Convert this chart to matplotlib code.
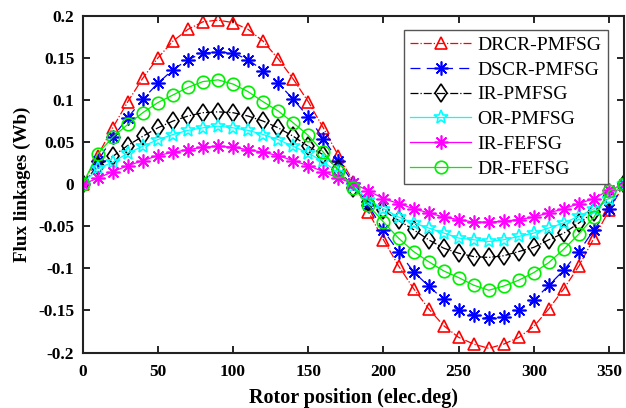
import matplotlib
matplotlib.use('Agg')
import matplotlib.pyplot as plt

# rotor position (elec. deg), one point every 10 deg
angle = list(range(0, 361, 10))

# flux linkages (Wb)
drcr_pmfsg = [0, 0.034, 0.067, 0.098, 0.126, 0.150, 0.170, 0.184, 0.193, 0.195,
              0.192, 0.184, 0.170, 0.149, 0.125, 0.098, 0.067, 0.034, 0.003,
              -0.033, -0.066, -0.097, -0.124, -0.148, -0.168, -0.182, -0.190, -0.195,
              -0.190, -0.182, -0.169, -0.148, -0.124, -0.097, -0.064, -0.031, 0]
dscr_pmfsg = [0, 0.027, 0.056, 0.079, 0.101, 0.120, 0.136, 0.148, 0.156, 0.157,
              0.156, 0.148, 0.135, 0.120, 0.101, 0.080, 0.054, 0.028, 0.001,
              -0.025, -0.055, -0.080, -0.104, -0.121, -0.137, -0.150, -0.156, -0.159,
              -0.158, -0.150, -0.138, -0.120, -0.102, -0.080, -0.054, -0.029, 0]
ir_pmfsg = [0, 0.022, 0.033, 0.046, 0.057, 0.067, 0.075, 0.081, 0.085, 0.086,
            0.085, 0.081, 0.075, 0.067, 0.057, 0.045, 0.035, 0.018, -0.004,
            -0.021, -0.031, -0.043, -0.054, -0.066, -0.076, -0.082, -0.086, -0.087,
            -0.085, -0.080, -0.075, -0.066, -0.058, -0.046, -0.033, -0.015, 0]
or_pmfsg = [0, 0.019, 0.026, 0.037, 0.045, 0.053, 0.059, 0.064, 0.067, 0.069,
            0.067, 0.064, 0.059, 0.053, 0.045, 0.037, 0.027, 0.013, -0.002,
            -0.019, -0.029, -0.039, -0.046, -0.052, -0.058, -0.064, -0.066, -0.068,
            -0.066, -0.062, -0.058, -0.052, -0.046, -0.038, -0.029, -0.017, 0]
ir_fefsg = [0, 0.007, 0.015, 0.022, 0.028, 0.034, 0.038, 0.041, 0.044, 0.045,
            0.044, 0.041, 0.038, 0.034, 0.028, 0.022, 0.015, 0.007, 0.001,
            -0.008, -0.017, -0.023, -0.029, -0.034, -0.039, -0.042, -0.045, -0.045,
            -0.044, -0.042, -0.039, -0.034, -0.029, -0.023, -0.017, -0.007, 0]
dr_fefsg = [0, 0.036, 0.056, 0.071, 0.085, 0.097, 0.106, 0.115, 0.122, 0.124,
            0.119, 0.110, 0.098, 0.087, 0.073, 0.058, 0.038, 0.016, -0.004,
            -0.025, -0.045, -0.064, -0.080, -0.092, -0.103, -0.111, -0.120, -0.126,
            -0.121, -0.114, -0.105, -0.093, -0.077, -0.059, -0.039, -0.008, 0]

names = ['DRCR-PMFSG', 'DSCR-PMFSG', 'IR-PMFSG', 'OR-PMFSG', 'IR-FEFSG', 'DR-FEFSG']

xticks = [0, 50, 100, 150, 200, 250, 300, 350]
yticks = [-0.2, -0.15, -0.1, -0.05, 0, 0.05, 0.1, 0.15, 0.2]
ytick_labels = ['-0.2', '-0.15', '-0.1', '-0.05', '0', '0.05', '0.1', '0.15', '0.2']

plt.rcParams['font.family'] = ['Liberation Serif', 'DejaVu Serif']

fig = plt.figure(figsize=(6.26, 4.08), dpi=100)
ax = fig.add_axes([0.132, 0.136, 0.865, 0.825])

asterisk = (8, 2, 0)
ax.plot(angle, drcr_pmfsg, color='red', ls='-.', lw=0.9, marker='^', ms=9,
        mfc='none', mew=1.2, label=names[0])
ax.plot(angle, dscr_pmfsg, color='blue', ls=(0, (8, 5)), lw=0.9, marker=asterisk, ms=10,
        mew=1.2, label=names[1])
ax.plot(angle, ir_pmfsg, color='black', ls='-.', lw=0.9, marker='d', ms=9.5,
        mfc='none', mew=1.2, label=names[2])
ax.plot(angle, or_pmfsg, color='cyan', ls='-', lw=0.9, marker='*', ms=10.5,
        mfc='none', mew=1.2, label=names[3])
ax.plot(angle, ir_fefsg, color='magenta', ls='-', lw=0.9, marker=asterisk, ms=10,
        mew=1.2, label=names[4])
ax.plot(angle, dr_fefsg, color='#00ee00', ls='-', lw=0.9, marker='o', ms=9,
        mfc='none', mew=1.2, label=names[5])

ax.set_xlim(0, 360)
ax.set_ylim(-0.2, 0.2)
ax.set_xticks(xticks)
ax.set_xticklabels([str(t) for t in xticks])
ax.set_yticks(yticks)
ax.set_yticklabels(ytick_labels)
ax.tick_params(direction='in', top=True, right=True, length=5, width=1.2,
               labelsize=12.5)
ax.tick_params(axis='x', pad=8)
ax.tick_params(axis='y', pad=6)
for lab in ax.get_xticklabels() + ax.get_yticklabels():
    lab.set_fontweight('bold')
for sp in ax.spines.values():
    sp.set_linewidth(1.5)
    sp.set_color('#222222')

ax.set_xlabel('Rotor position (elec.deg)', fontsize=14.5, fontweight='bold', labelpad=6)
ax.set_ylabel('Flux linkages (Wb)', fontsize=13.7, fontweight='bold', labelpad=5)

leg = ax.legend(loc='upper right', bbox_to_anchor=(0.970, 0.958), borderaxespad=0,
                fontsize=14, numpoints=1, handlelength=3.1, handletextpad=0.36,
                labelspacing=0.37, borderpad=0.32, fancybox=False, framealpha=1)
leg.get_frame().set_edgecolor('#555555')
leg.get_frame().set_linewidth(1.0)

plt.savefig('out.png', dpi=100)
